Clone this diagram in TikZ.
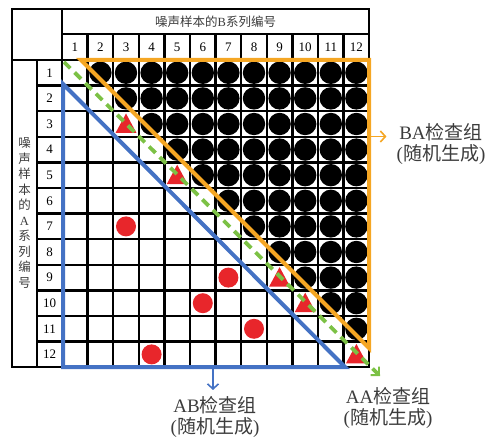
\documentclass[tikz,border=0pt]{standalone}
\usepackage{fontspec}
\setmainfont{Liberation Serif}
\newfontfamily\cjk{Noto Sans CJK SC}
\usetikzlibrary{arrows.meta}
\definecolor{cOrange}{HTML}{F5A623}
\definecolor{cBlue}{HTML}{4472C4}
\definecolor{cGreen}{HTML}{7CC145}
\definecolor{cRed}{HTML}{E8262B}
\definecolor{cText}{HTML}{3C3C3C}
\tikzset{
  gridline/.style={line width=2.5pt, black, line cap=rect},
  numlbl/.style={font=\fontsize{13}{14}\selectfont, inner sep=0pt, text=black},
  blackdot/.style={fill=black},
  reddot/.style={fill=cRed},
  redtri/.style={fill=cRed},
  grplbl/.style={font=\fontsize{19}{21.5}\selectfont, text=cText, align=center, inner sep=0pt},
  barb/.style={-{Straight Barb[length=5pt,width=11pt,line width=1.6pt]}},
  zone/.style={line width=4pt, line join=miter},
}
\begin{document}
\begin{tikzpicture}[x=1pt,y=-1pt]
\useasboundingbox (0,0) rectangle (495,438);
% ---- table frame and grid ----
\foreach \k in {1,...,12} {
  \draw[gridline] ({62+25.6*\k},34) -- ({62+25.6*\k},367.2);
  \draw[gridline] (37,{60+25.6*\k}) -- (369.2,{60+25.6*\k});
}
\draw[gridline] (12,9) rectangle (369.2,367.2);
\draw[gridline] (62,9) -- (62,367.2);
\draw[gridline] (62,34) -- (369.2,34);
\draw[gridline] (12,60) -- (369.2,60);
\draw[gridline] (37,60) -- (37,367.2);
% ---- headers ----
\node[font=\fontsize{12.5}{14}\selectfont, text=cText] (hdrB) at (215.6,21.5) {{\cjk 噪声样本的}B{\cjk 系列编号}};
\node[align=center, font=\fontsize{12.5}{15.5}\selectfont, text=cText] (hdrA) at (24.5,213)
  {\cjk 噪\\\cjk 声\\\cjk 样\\\cjk 本\\\cjk 的\\A\\\cjk 系\\\cjk 列\\\cjk 编\\\cjk 号};
\foreach \c in {1,...,12} {
  \node[numlbl] (col\c) at ({62+25.6*(\c-0.5)},47) {\c};
  \node[numlbl] (row\c) at (49.5,{60+25.6*(\c-0.5)}) {\c};
}
% ---- black circles (upper triangle) ----
\foreach \r in {1,...,11} {
  \pgfmathtruncatemacro\s{\r+1}
  \foreach \c in {\s,...,12} {
    \fill[blackdot] ({62+25.6*(\c-0.5)},{60+25.6*(\r-0.5)}) circle (11.2);
  }
}
% ---- red circles ----
\foreach \r/\c in {7/3,9/7,10/6,11/8,12/4} {
  \fill[reddot] ({62+25.6*(\c-0.5)},{60+25.6*(\r-0.5)}) circle (10);
}
% ---- red triangles on the diagonal ----
\foreach \d in {3,5,9,10,12} {
  \fill[redtri] ({62+25.6*(\d-0.5)},{60+25.6*(\d-0.5)-10.5})
     -- ({62+25.6*(\d-0.5)+10.5},{60+25.6*(\d-0.5)+9})
     -- ({62+25.6*(\d-0.5)-10.5},{60+25.6*(\d-0.5)+9}) -- cycle;
}
% ---- zones ----
\draw[zone, cOrange] (81,60) -- (369,60) -- (369,348) -- cycle;
\draw[zone, cBlue] (63,84) -- (63,367) -- (345,367) -- cycle;
\coordinate (gS) at (64,62);
\coordinate (gE) at (380,376);
\draw[cGreen, line width=3.8pt, dash pattern=on 9pt off 6pt,
      -{Straight Barb[length=6pt,width=12pt,line width=1.8pt]}] (gS) -- (gE);
% ---- labels ----
\node[grplbl] (ba) at (441,144) {BA{\cjk 检查组}\\({\cjk 随机生成})};
\node[grplbl] (ab) at (215,417) {AB{\cjk 检查组}\\({\cjk 随机生成})};
\node[grplbl] (aa) at (388,408) {AA{\cjk 检查组}\\({\cjk 随机生成})};
\coordinate (oS) at (371,136.5);
\coordinate (bS) at (213,369);
\draw[cOrange, line width=1.8pt, barb, shorten >=10pt] (oS) -- (oS -| ba.west);
\draw[cBlue, line width=1.8pt, barb, shorten >=6pt] (bS) -- (bS |- ab.north);
\end{tikzpicture}
\end{document}
